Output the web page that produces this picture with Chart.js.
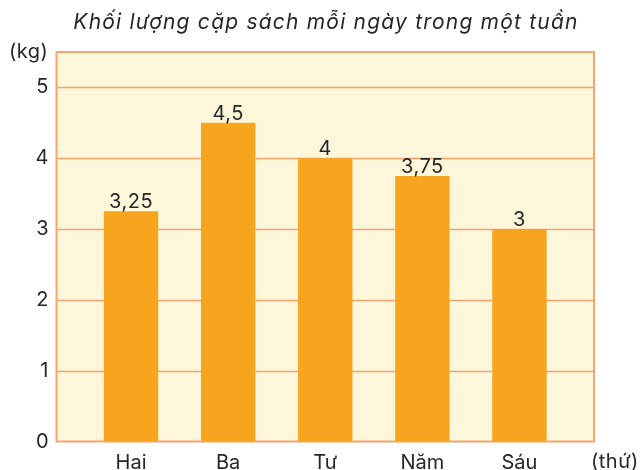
<!DOCTYPE html>
<html>
<head>
<meta charset="utf-8">
<script src="https://cdn.jsdelivr.net/npm/chart.js@4"></script>
<style>
  html, body { margin: 0; padding: 0; background: #fff; }
  #wrap { width: 642px; height: 470px; position: relative; }
</style>
</head>
<body>
<div id="wrap"><canvas id="chart"></canvas></div>
<script>
// ---- data ----
const days = ['Hai', 'Ba', 'Tư', 'Năm', 'Sáu'];
const weights = [3.25, 4.5, 4, 3.75, 3];
const valueLabels = ['3,25', '4,5', '4', '3,75', '3'];
const yTicks = [0, 1, 2, 3, 4, 5];

const TITLE = 'Khối lượng cặp sách mỗi ngày trong một tuần';
const FONT = "Inter, sans-serif";
const TEXT = '#262626';
const GRID = '#f4a56e';
const PANEL = '#fcf6da';
const BAR = '#f7a51f';
const EXTEND = 26; // panel reaches past the outer bars

// panel background, gridlines and border drawn around the bars
const panel = {
  id: 'panel',
  beforeDatasetsDraw(chart) {
    const { ctx, chartArea: { left, right, top, bottom } } = chart;
    const y = chart.scales.y;
    const l = left - EXTEND, r = right + EXTEND;
    ctx.save();
    ctx.fillStyle = PANEL;
    ctx.fillRect(l, top, r - l, bottom - top);
    ctx.strokeStyle = GRID;
    ctx.lineWidth = 1.5;
    for (const v of yTicks) {
      if (v === 0) continue;
      const py = Math.round(y.getPixelForValue(v)) + 0.5;
      ctx.beginPath();
      ctx.moveTo(l, py);
      ctx.lineTo(r, py);
      ctx.stroke();
    }
    ctx.lineWidth = 2;
    ctx.strokeRect(l, top, r - l, bottom - top);
    ctx.restore();
  },
  afterDatasetsDraw(chart) {
    const { ctx, chartArea: { right, bottom } } = chart;
    ctx.save();
    ctx.font = `20px ${FONT}`;
    ctx.fillStyle = TEXT;
    ctx.textAlign = 'center';
    ctx.textBaseline = 'alphabetic';
    ctx.letterSpacing = '0.5px';
    chart.getDatasetMeta(0).data.forEach((bar, i) => {
      ctx.fillText(valueLabels[i], bar.x, bar.y - 3);
    });
    // axis captions
    ctx.textAlign = 'left';
    ctx.fillText('(thứ)', right + EXTEND - 3, bottom + 26);
    ctx.fillText('(kg)', 9, 58);
    // title
    ctx.font = `italic 21px ${FONT}`;
    ctx.letterSpacing = '1.2px';
    ctx.textAlign = 'center';
    ctx.fillText(TITLE, 326, 29);
    ctx.restore();
  }
};

new Chart(document.getElementById('chart'), {
  type: 'bar',
  data: {
    labels: days,
    datasets: [{
      data: weights,
      backgroundColor: BAR,
      borderWidth: 0,
      barPercentage: 1,
      categoryPercentage: 0.56,
    }],
  },
  options: {
    responsive: true,
    maintainAspectRatio: false,
    animation: false,
    layout: { padding: { top: 52, right: 74, left: 0, bottom: 0 } },
    plugins: {
      legend: { display: false },
      title: { display: false },
      tooltip: { enabled: false },
    },
    scales: {
      x: {
        grid: { display: false, drawTicks: false },
        border: { display: false },
        ticks: { color: TEXT, font: { family: FONT, size: 20 }, padding: 9 },
        afterFit: s => { s.height = 28.5; s.paddingLeft = 0; s.paddingRight = 0; },
      },
      y: {
        min: 0,
        max: 5.5,
        grid: { display: false, drawTicks: false },
        border: { display: false },
        afterBuildTicks: s => { s.ticks = yTicks.map(v => ({ value: v })); },
        ticks: { color: TEXT, font: { family: FONT, size: 20 }, padding: 34 },
        afterFit: s => { s.width = 82.5; s.paddingTop = 0; s.paddingBottom = 0; },
      },
    },
  },
  plugins: [panel],
});
</script>
</body>
</html>
